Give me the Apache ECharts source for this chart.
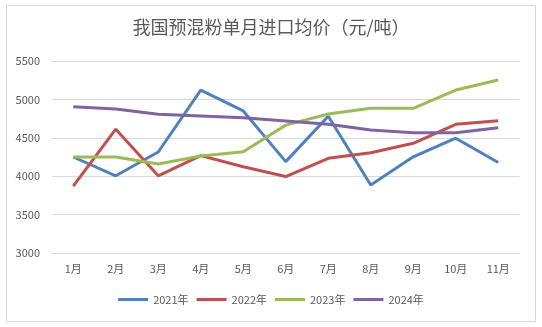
<!DOCTYPE html>
<html><head><meta charset="utf-8">
<script src="https://cdn.jsdelivr.net/npm/echarts@6/dist/echarts.min.js"></script>
<style>html,body{margin:0;padding:0;background:#fff}#c{width:542px;height:327px}</style>
</head><body><div id="c"></div>
<script>
const months = ['1月','2月','3月','4月','5月','6月','7月','8月','9月','10月','11月'];
const s2021 = [4250,4005,4315,5120,4850,4190,4780,3885,4252,4495,4178];
const s2022 = [3872,4612,4005,4268,4124,3995,4233,4306,4428,4675,4723];
const s2023 = [4250,4250,4160,4262,4318,4665,4810,4884,4884,5122,5253];
const s2024 = [4905,4876,4806,4784,4762,4720,4675,4603,4567,4567,4632];
const seriesNames = ['2021年','2022年','2023年','2024年'];
const colors = ['#4F81BD','#C0504D','#9BBB59','#8064A2'];
const data = [s2021,s2022,s2023,s2024];
const chart = echarts.init(document.getElementById('c'));
const font = '"Noto Sans CJK SC","Liberation Sans",sans-serif';
chart.setOption({
  animation:false,
  color:colors,
  graphic:[{type:'rect',shape:{x:6.5,y:5.5,width:529,height:316},style:{fill:'none',stroke:'#D9D9D9',lineWidth:1},silent:true}],
  title:{text:'我国预混粉单月进口均价（元/吨）',left:'center',top:13,textStyle:{fontFamily:font,fontSize:18,fontWeight:'normal',color:'#595959'}},
  legend:{bottom:17,itemWidth:30,itemHeight:3,itemGap:8,icon:'rect',textStyle:{fontFamily:font,fontSize:11,color:'#595959'},data:seriesNames},
  grid:{left:52,right:22.5,top:61,bottom:74},
  xAxis:{type:'category',data:months,boundaryGap:true,axisLine:{show:false},axisTick:{show:false},
    axisLabel:{fontFamily:font,fontSize:11,color:'#595959',margin:10}},
  yAxis:{type:'value',min:3000,max:5500,interval:500,axisLine:{show:false},axisTick:{show:false},
    axisLabel:{fontFamily:font,fontSize:11,color:'#595959',margin:12,formatter:v=>String(v)},
    splitLine:{lineStyle:{color:'#D9D9D9',width:1}}},
  series:data.map((d,i)=>({name:seriesNames[i],type:'line',data:d,symbol:'none',lineStyle:{width:3,color:colors[i]},itemStyle:{color:colors[i]}}))
});
</script></body></html>
